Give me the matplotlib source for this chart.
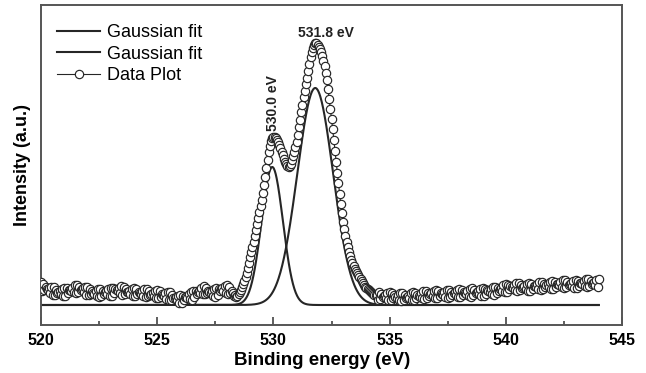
import numpy as np
import matplotlib
matplotlib.use("Agg")
import matplotlib.pyplot as plt

# ---------------- data ----------------
energy_start, energy_stop = 520.0, 544.0
data_intensity = [
    # 520.00 - 520.95
    23,14,21,15,18,16,15,17,12,18,10,18,10,15,12,13,14,11,16,9,
    # 521
    17,9,17,12,15,15,14,17,13,20,12,20,13,18,15,16,17,13,18,10,
    # 522
    18,10,16,11,14,12,11,14,9,16,8,16,9,14,11,13,14,11,16,9,
    # 523
    17,9,17,12,16,15,14,17,12,19,10,18,11,16,13,13,14,11,16,9,
    # 524
    17,9,16,11,13,12,11,14,9,16,8,16,9,14,10,11,12,9,14,7,
    # 525
    15,7,14,8,11,10,9,12,6,13,5,13,5,10,7,7,8,5,9,2,
    # 526
    10,2,9,5,8,8,7,11,6,13,5,14,8,14,11,13,14,12,17,11,
    # 527
    19,11,17,12,14,13,12,14,9,16,8,17,10,16,14,16,17,14,19,12,
    # 528
    20,11,18,12,14,12,9,10,8,9,11,13,15,18,21,24,28,32,37,42,
    # 529
    48,53,58,63,69,75,81,87,93,99,105,112,120,128,137,145,153,159,164,167,
    # 530
    168,168,167,165,163,160,157,153,150,146,143,141,139,138,139,141,145,149,153,158,
    # 531
    163,170,178,185,193,200,208,214,221,227,234,241,248,253,257,260,262,262,260,258,
    # 532
    256,253,249,244,239,232,225,216,206,196,186,176,165,154,143,132,122,111,101,92,
    # 533
    83,76,69,63,58,53,49,45,42,39,36,34,32,30,28,26,24,22,20,18,
    # 534
    17,16,15,14,13,12,11,10,10,10,5,13,6,11,8,9,10,7,12,5,
    # 535
    13,5,12,7,10,8,7,10,5,12,4,12,5,10,7,8,9,7,12,5,
    # 536
    13,5,12,7,10,9,8,12,7,14,6,14,7,12,9,11,12,9,14,7,
    # 537
    15,7,14,9,12,11,10,13,8,15,7,15,8,13,10,12,13,10,15,8,
    # 538
    16,8,15,10,13,12,11,14,9,16,8,17,10,15,12,13,14,11,16,9,
    # 539
    17,9,16,11,15,14,13,16,11,18,10,18,12,17,14,16,17,14,20,13,
    # 540
    21,13,20,16,19,18,17,20,15,22,14,22,15,20,17,18,19,16,21,14,
    # 541
    22,14,21,16,19,19,18,21,16,23,15,23,16,21,18,20,21,18,23,16,
    # 542
    24,16,23,18,21,21,20,23,18,25,17,25,18,23,20,21,22,19,24,17,
    # 543
    25,17,24,19,22,22,21,24,19,26,18,26,19,24,21,22,23,20,25,18,
    # 544.00
    26,
]
data_energy = np.linspace(energy_start, energy_stop, len(data_intensity))

# Gaussian fit parameters
fit_centers = [529.95, 531.8]
fit_heights = [138, 217]
fit_sigmas = [0.46, 0.77]

xticks = [520, 525, 530, 535, 540, 545]
peak_labels = ["530.0 eV", "531.8 eV"]
legend_labels = ["Gaussian fit", "Gaussian fit", "Data Plot"]

# ---------------- figure ----------------
plt.rcParams['font.family'] = ['Liberation Sans', 'DejaVu Sans']
fig = plt.figure(figsize=(6.46, 3.73), dpi=100)
ax = fig.add_axes([41/646, 48/373, 581/646, 320/373])

line_col = '#262626'
fit_x = np.linspace(energy_start, energy_stop, 1201)
handles = []
for c, h, s in zip(fit_centers, fit_heights, fit_sigmas):
    y = h * np.exp(-(fit_x - c) ** 2 / (2 * s ** 2))
    ln, = ax.plot(fit_x, y, color=line_col, lw=1.5, zorder=2)
    handles.append(ln)

dl, = ax.plot(data_energy, data_intensity, color=line_col, lw=0.8,
              marker='o', markersize=6.0, markerfacecolor='white',
              markeredgecolor='#262626', markeredgewidth=0.85, zorder=3)
handles.append(dl)

ax.set_xlim(520, 545)
ax.set_ylim(-20, 300)
ax.set_xticks(xticks)
ax.set_xticks(np.arange(522.5, 545, 5), minor=True)
ax.set_yticks([])
ax.tick_params(axis='x', which='major', direction='in', length=6, width=1.1,
               color='#333333', pad=6, labelsize=11.5)
ax.tick_params(axis='x', which='minor', direction='in', length=3, width=1.1,
               color='#333333')
for lab in ax.get_xticklabels():
    lab.set_fontweight('bold')
for sp in ax.spines.values():
    sp.set_color('#555555')
    sp.set_linewidth(1.4)

ax.set_xlabel("Binding energy (eV)", fontsize=13.5, fontweight='bold', labelpad=3)
ax.xaxis.set_label_coords(0.484, -0.085)
ax.xaxis.label.set_va('top')
ax.set_ylabel("Intensity (a.u.)", fontsize=13, fontweight='bold', labelpad=7)

ax.text(530.0, 174, peak_labels[0], rotation=90, ha='center', va='bottom',
        fontsize=10, fontweight='bold', color='#222222')
ax.text(532.25, 272, peak_labels[1], ha='center', va='center',
        fontsize=10, fontweight='bold', color='#222222')

leg = ax.legend(handles, legend_labels, loc='upper left',
                bbox_to_anchor=(0.0275, 0.94), frameon=False, numpoints=1,
                fontsize=13, handlelength=2.4, handletextpad=0.35,
                labelspacing=0.25, borderpad=0, borderaxespad=0)

fig.savefig("out.png", dpi=100)
